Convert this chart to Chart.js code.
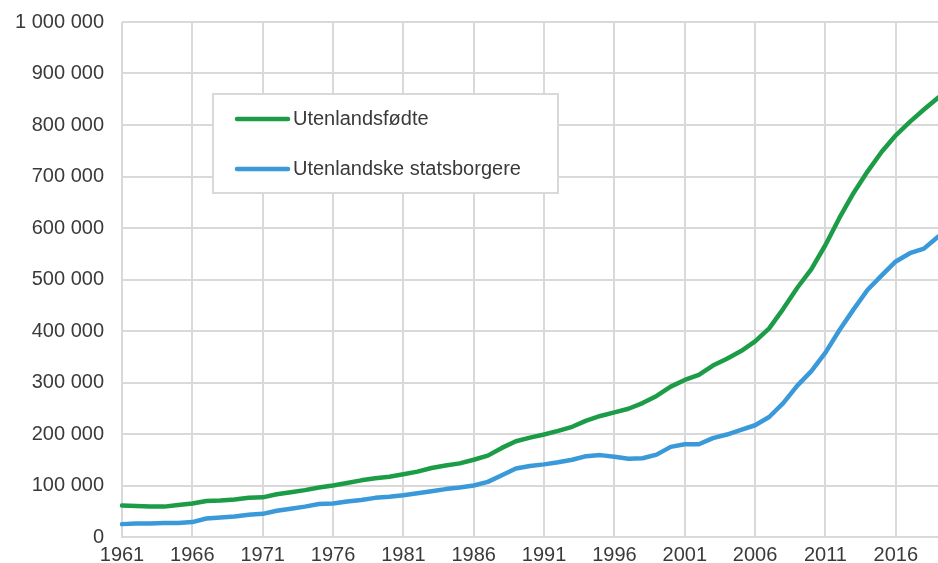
<!DOCTYPE html>
<html>
<head>
<meta charset="utf-8">
<script src="https://cdn.jsdelivr.net/npm/chart.js@4/dist/chart.umd.min.js"></script>
<style>
  html, body { margin: 0; padding: 0; background: #fff; }
  #wrap { width: 938px; height: 563px; position: relative; }
</style>
</head>
<body>
<div id="wrap"><canvas id="chart"></canvas></div>
<script>
// ── Data ──────────────────────────────────────────────────
const years = [];
for (let y = 1961; y <= 2019; y++) years.push(String(y));

// Utenlandsfødte, thousands
const bornAbroad = [
  61, 60, 59, 59, 62, 65, 70, 71, 73, 76,
  77, 83, 87, 91, 96, 100, 105, 110, 114, 117,
  122, 127, 134, 139, 143, 150, 158, 173, 186, 193,
  199, 206, 214, 226, 235, 242, 249, 260, 274, 292,
  305, 315, 333, 346, 361, 380, 405, 443, 484, 520,
  567, 620, 668, 710, 748, 780, 806, 830, 853
];

// Utenlandske statsborgere, thousands
const foreignCitizens = [
  25, 26, 26, 27, 27, 29, 36, 38, 40, 43,
  45, 51, 55, 59, 64, 65, 69, 72, 76, 78,
  81, 85, 89, 93, 96, 100, 107, 120, 133, 138,
  141, 145, 150, 157, 159, 156, 152, 153, 160, 175,
  180, 180, 192, 199, 208, 217, 233, 260, 294, 322,
  358, 402, 442, 480, 508, 535, 551, 560, 583
];

const seriesLabels = ["Utenlandsfødte", "Utenlandske statsborgere"];
const seriesColors = ["#1c9c47", "#3a9ad9"];

const FONT = "'Liberation Sans', Arial, sans-serif";
const TEXT = "#3a3a3a";
const GRID = "#d9d9d9";

function fmt(v) {
  return String(v).replace(/\B(?=(\d{3})+(?!\d))/g, " ");
}

// every fifth year gets a label and a gridline
const showYear = (i) => i % 5 === 0 && i < 58;

// ── Legend box drawn inside the plot ───────────────────────
const boxLegend = {
  id: "boxLegend",
  afterDraw(chart) {
    const ctx = chart.ctx;
    ctx.save();
    ctx.fillStyle = "#fff";
    ctx.fillRect(213, 94, 345, 99);
    ctx.strokeStyle = GRID;
    ctx.lineWidth = 2;
    ctx.strokeRect(213, 94, 345, 99);
    chart.data.datasets.forEach((ds, i) => {
      const y = 119 + i * 50;
      ctx.strokeStyle = ds.borderColor;
      ctx.lineWidth = 4.5;
      ctx.lineCap = "round";
      ctx.beginPath();
      ctx.moveTo(237, y);
      ctx.lineTo(288, y);
      ctx.stroke();
      ctx.fillStyle = TEXT;
      ctx.font = "20px " + FONT;
      ctx.textBaseline = "middle";
      ctx.fillText(ds.label, 293, y);
    });
    ctx.restore();
  }
};

new Chart(document.getElementById("chart"), {
  type: "line",
  data: {
    labels: years,
    datasets: [
      { label: seriesLabels[0], data: bornAbroad.map(v => v * 1000), borderColor: seriesColors[0] },
      { label: seriesLabels[1], data: foreignCitizens.map(v => v * 1000), borderColor: seriesColors[1] },
    ],
  },
  options: {
    responsive: true,
    maintainAspectRatio: false,
    animation: false,
    layout: { padding: { top: 22, right: 0, bottom: 0, left: 0 } },
    elements: {
      line: { borderWidth: 4.5, tension: 0, borderCapStyle: "round", borderJoinStyle: "round" },
      point: { radius: 0 },
    },
    plugins: { legend: { display: false }, tooltip: { enabled: false } },
    scales: {
      x: {
        grid: {
          color: (c) => (showYear(c.index) ? GRID : "rgba(0,0,0,0)"),
          lineWidth: 2,
          drawTicks: false,
        },
        border: { color: GRID, width: 2 },
        afterFit: (s) => {
          s.height = 26;
          s.paddingLeft = 0;
          s.paddingRight = 0;
        },
        ticks: {
          autoSkip: false,
          maxRotation: 0,
          padding: 6,
          color: TEXT,
          font: { family: FONT, size: 20 },
          callback: (v, i) => (showYear(i) ? years[i] : ""),
        },
      },
      y: {
        min: 0,
        max: 1000000,
        grid: { color: GRID, lineWidth: 2, drawTicks: false },
        border: { display: false },
        afterFit: (s) => {
          s.width = 122;
          s.paddingTop = 0;
          s.paddingBottom = 0;
        },
        ticks: {
          stepSize: 100000,
          padding: 18,
          color: TEXT,
          font: { family: FONT, size: 20 },
          callback: (v) => fmt(v),
        },
      },
    },
  },
  plugins: [boxLegend],
});
</script>
</body>
</html>
